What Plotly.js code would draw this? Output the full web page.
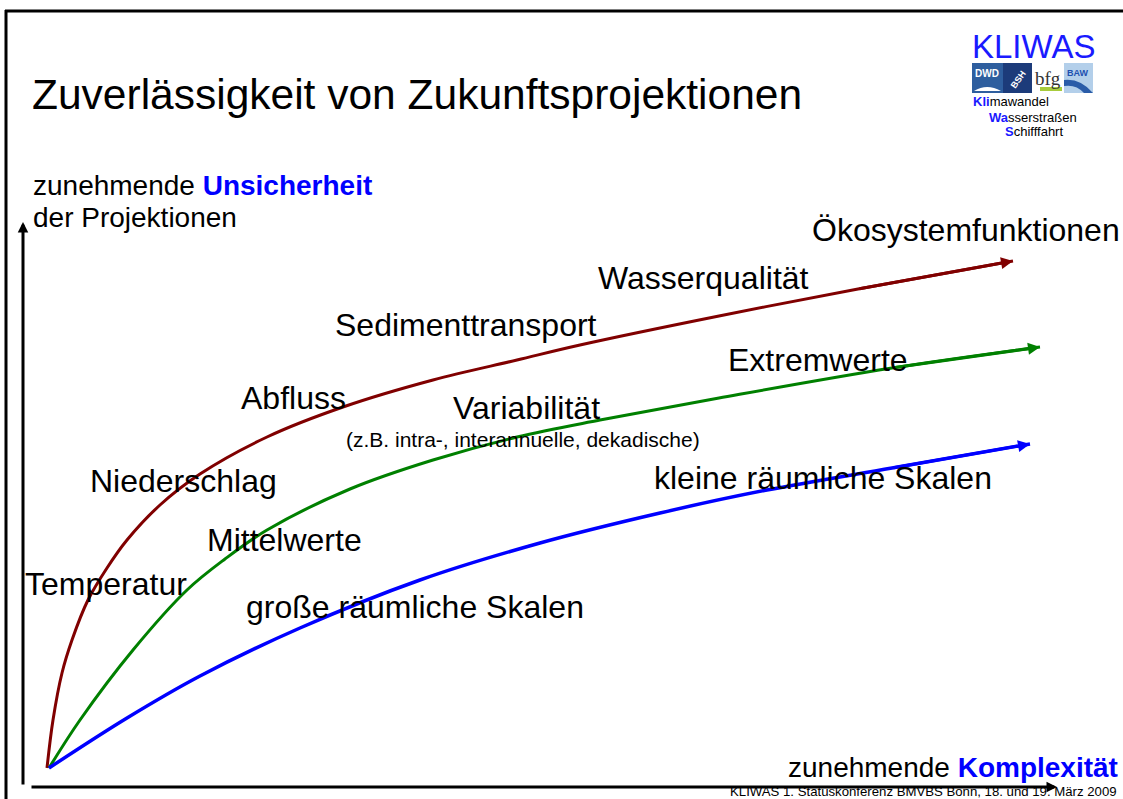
<!DOCTYPE html>
<html>
<head>
<meta charset="utf-8">
<script src="https://cdn.plot.ly/plotly-3.0.1.min.js"></script>
<style>html,body{margin:0;padding:0;background:#fff;}#chart{width:1123px;height:799px;}</style>
</head>
<body>
<div id="chart"></div>
<script>
// Data: complexity (x) vs. uncertainty (y)
const redX   = [0, 0.6, 1.5, 2.5, 4.1, 6.0, 8.0, 11.3, 15.3, 22.0, 29.6, 38.6, 47.0, 53.3, 67.2, 81.1, 96.6];
const redY   = [0, 9.6, 19.0, 25.6, 33.6, 40.0, 45.6, 52.6, 58.8, 66.2, 72.2, 77.6, 81.6, 84.6, 90.4, 95.8, 101.4];
const greenX = [0.2, 3.3, 8.6, 14.0, 17.8, 22.0, 30.3, 38.6, 47.0, 55.3, 67.2, 84.5, 99.3];
const greenY = [0, 9.6, 23.6, 35.6, 41.8, 47.6, 55.8, 61.6, 66.2, 69.6, 74.0, 80.0, 84.2];
const blueX  = [0.2, 8.0, 15.3, 25.3, 37.3, 49.3, 61.3, 72.0, 84.5, 98.3];
const blueY  = [0, 10.0, 18.4, 28.0, 37.6, 45.0, 51.0, 55.6, 60.0, 64.8];

const seriesNames  = ["Klima", "Hydrologie", "Skalen"];
const redLabels    = ["Temperatur", "Niederschlag", "Abfluss", "Sedimenttransport", "Wasserqualität", "Ökosystemfunktionen"];
const greenLabels  = ["Mittelwerte", "Variabilität", "(z.B. intra-, interannuelle, dekadische)", "Extremwerte"];
const blueLabels   = ["große räumliche Skalen", "kleine räumliche Skalen"];
const titleText    = "Zuverlässigkeit von Zukunftsprojektionen";
const yAxisLabel   = ["zunehmende ", "Unsicherheit", "der Projektionen"];
const xAxisLabel   = ["zunehmende ", "Komplexität"];
const footerText   = "KLIWAS 1. Statuskonferenz BMVBS Bonn, 18. und 19. März 2009";

// pixel <-> data helpers (layout only)
const W = 1123, H = 799;
const X0 = 47, Y0 = 768, SX = 10, SY = 5;
const dx = p => (p - X0) / SX;
const dy = p => (Y0 - p) / SY;
const px = v => v / W;          // paper x
const py = v => 1 - v / H;      // paper y

const FONT = "Liberation Sans, Arial, sans-serif";
const BLUE = "#0000ff";
const colors = ["#800000", "#008000", "#0000ff"];

const traces = [
  {x: redX, y: redY, name: seriesNames[0], mode: "lines", line: {color: colors[0], width: 3, shape: "spline", smoothing: 1}},
  {x: greenX, y: greenY, name: seriesNames[1], mode: "lines", line: {color: colors[1], width: 3, shape: "spline", smoothing: 1}},
  {x: blueX, y: blueY, name: seriesNames[2], mode: "lines", line: {color: colors[2], width: 3.5, shape: "spline", smoothing: 1}}
];

function curveArrow(xs, ys, color) {
  const n = xs.length;
  return {x: xs[n-1], y: ys[n-1], ax: xs[n-2], ay: ys[n-2], axref: "x", ayref: "y", xref: "x", yref: "y",
          text: "", showarrow: true, arrowhead: 2, arrowsize: 0.8, arrowwidth: 3, arrowcolor: color, standoff: 0};
}
function label(text, left, cy, size, extra) {
  return Object.assign({x: px(left), y: py(cy), xref: "paper", yref: "paper", xanchor: "left", yanchor: "middle",
          text: text, showarrow: false, font: {family: FONT, size: size, color: "#000"}}, extra || {});
}

const annotations = [
  curveArrow(redX, redY, colors[0]),
  curveArrow(greenX, greenY, colors[1]),
  curveArrow(blueX, blueY, colors[2]),
  // axis arrows
  {x: dx(23), y: dy(222), ax: dx(23), ay: dy(786), axref: "x", ayref: "y", xref: "x", yref: "y", text: "", showarrow: true,
   arrowhead: 2, arrowsize: 0.7, arrowwidth: 3, arrowcolor: "#000", standoff: 0},
  {x: dx(1057), y: dy(787), ax: dx(30), ay: dy(787), axref: "x", ayref: "y", xref: "x", yref: "y", text: "", showarrow: true,
   arrowhead: 2, arrowsize: 0.7, arrowwidth: 3, arrowcolor: "#000", standoff: 0},
  // title
  label(titleText, 30, 95, 42.5),
  label(yAxisLabel[0] + '<b><span style="color:' + BLUE + '">' + yAxisLabel[1] + '</span></b>', 31, 185, 28),
  label(yAxisLabel[2], 31, 217, 28),
  label(xAxisLabel[0] + '<b><span style="color:' + BLUE + '">' + xAxisLabel[1] + '</span></b>', 1120, 767, 28, {xanchor: "right"}),
  label(footerText, 1119, 791, 13.2, {xanchor: "right"}),
  // red labels
  label(redLabels[0], 23, 584, 32),
  label(redLabels[1], 88, 481, 32),
  label(redLabels[2], 239, 398, 32),
  label(redLabels[3], 333, 325, 32),
  label(redLabels[4], 596, 278, 32),
  label(redLabels[5], 810, 230, 32),
  // green labels
  label(greenLabels[0], 205, 540, 32),
  label(greenLabels[1], 451, 408, 32),
  label(greenLabels[2], 344, 439, 21),
  label(greenLabels[3], 726, 360, 32),
  // blue labels
  label(blueLabels[0], 244, 607, 32),
  label(blueLabels[1], 652, 478, 32),
  // logo texts
  {x: px(1033), y: py(66), xref: "paper", yref: "paper", xanchor: "center", yanchor: "bottom", text: "KLIWAS",
   showarrow: false, borderpad: 0, font: {family: FONT, size: 33, color: "#1a1aff"}},
  {x: px(987), y: py(73), xref: "paper", yref: "paper", xanchor: "center", yanchor: "middle", text: "<b>DWD</b>",
   showarrow: false, borderpad: 0, font: {family: FONT, size: 10, color: "#fff"}},
  {x: px(1018), y: py(80), xref: "paper", yref: "paper", xanchor: "center", yanchor: "middle", text: "<b>BSH</b>",
   textangle: -55, showarrow: false, font: {family: FONT, size: 9, color: "#fff"}},
  {x: px(1048), y: py(78), xref: "paper", yref: "paper", xanchor: "center", yanchor: "middle", text: "bfg",
   showarrow: false, borderpad: 0, font: {family: "Liberation Serif, serif", size: 19, color: "#333"}},
  {x: px(1078), y: py(73), xref: "paper", yref: "paper", xanchor: "center", yanchor: "middle", text: "<b>BAW</b>",
   showarrow: false, borderpad: 0, font: {family: FONT, size: 9, color: "#2050b0"}},
  label('<span style="color:#1a1aff"><b>Kli</b></span>mawandel', 971, 102, 13),
  label('<span style="color:#1a1aff"><b>Wa</b></span>sserstraßen', 987, 117, 13),
  label('<span style="color:#1a1aff"><b>S</b></span>chifffahrt', 1003, 131, 13)
];

const shapes = [
  // slide frame
  {type: "line", xref: "paper", yref: "paper", x0: px(6), x1: px(6), y0: py(10), y1: py(799), line: {color: "#000", width: 3}},
  {type: "line", xref: "paper", yref: "paper", x0: px(5), x1: px(1123), y0: py(11), y1: py(11), line: {color: "#000", width: 3}},
  // logo boxes
  {type: "rect", xref: "paper", yref: "paper", x0: px(972), x1: px(1003), y0: py(63), y1: py(93), fillcolor: "#2e5e9e", line: {width: 0}},
  {type: "rect", xref: "paper", yref: "paper", x0: px(1003), x1: px(1032), y0: py(63), y1: py(93), fillcolor: "#1c3b7a", line: {width: 0}},
  {type: "rect", xref: "paper", yref: "paper", x0: px(1040), x1: px(1062), y0: py(87), y1: py(91), fillcolor: "#a8cc3c", line: {width: 0}},
  {type: "rect", xref: "paper", yref: "paper", x0: px(1064), x1: px(1093), y0: py(63), y1: py(93), fillcolor: "#b3cfea", line: {width: 0}},
  {type: "path", xref: "paper", yref: "paper",
   path: "M " + px(1064) + "," + py(80) + " Q " + px(1080) + "," + py(78) + " " + px(1093) + "," + py(93) +
         " L " + px(1084) + "," + py(93) + " Q " + px(1076) + "," + py(84) + " " + px(1064) + "," + py(86) + " Z",
   fillcolor: "#2a5ca8", line: {width: 0}},
  {type: "path", xref: "paper", yref: "paper",
   path: "M " + px(974) + "," + py(91) + " Q " + px(987) + "," + py(83) + " " + px(1001) + "," + py(91) + " Z",
   fillcolor: "#ffffff", line: {width: 0}}
];

const layout = {
  width: W, height: H,
  margin: {l: 0, r: 0, t: 0, b: 0, pad: 0},
  paper_bgcolor: "#fff", plot_bgcolor: "#fff",
  showlegend: false,
  xaxis: {range: [dx(0), dx(W)], visible: false, fixedrange: true},
  yaxis: {range: [dy(H), dy(0)], visible: false, fixedrange: true},
  annotations: annotations,
  shapes: shapes,
  font: {family: FONT}
};

Plotly.newPlot("chart", traces, layout, {displayModeBar: false, staticPlot: true});
</script>
</body>
</html>
